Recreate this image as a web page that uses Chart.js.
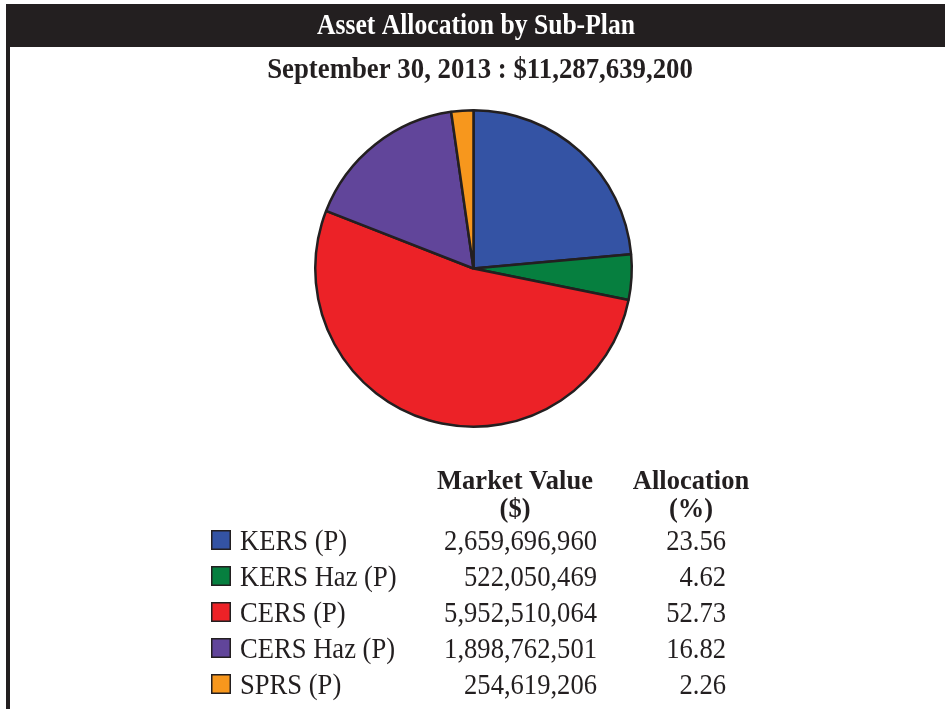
<!DOCTYPE html>
<html>
<head>
<meta charset="utf-8">
<script src="https://cdn.jsdelivr.net/npm/chart.js@4.4.1/dist/chart.umd.min.js"></script>
<style>
  html, body { margin: 0; padding: 0; background: #fff; }
  #wrap { position: relative; width: 945px; height: 709px; }
</style>
</head>
<body>
<div id="wrap"><canvas id="pieCanvas" width="945" height="709"></canvas></div>
<script>
// data
const titleText = 'Asset Allocation by Sub-Plan';
const subTitle = 'September 30, 2013 : $11,287,639,200';
const planNames = ['KERS (P)', 'KERS Haz (P)', 'CERS (P)', 'CERS Haz (P)', 'SPRS (P)'];
const marketValues = [2659696960, 522050469, 5952510064, 1898762501, 254619206];
const allocationPct = [23.56, 4.62, 52.73, 16.82, 2.26];
const sliceColors = ['#3453a4', '#067f3f', '#ec2227', '#61459a', '#f7971d'];

const ink = '#231f20';
const serif = '"Liberation Serif", "Times New Roman", serif';

// text a little taller than the font, like the printed original
function tallText(ctx, text, x, y, sy) {
    ctx.save();
    ctx.translate(x, y);
    ctx.scale(1, sy);
    ctx.fillText(text, 0, 0);
    ctx.restore();
}

// วาดหัวข้อ กรอบ และตารางบน canvas
const frame = {
    id: 'frame',
    beforeDraw(chart) {
        const ctx = chart.ctx;
        ctx.save();
        ctx.fillStyle = '#fff';
        ctx.fillRect(0, 0, chart.width, chart.height);
        ctx.fillStyle = ink;
        ctx.fillRect(6, 4, 939, 43);   // black header bar
        ctx.fillRect(6, 4, 4, 705);    // left rule
        ctx.textAlign = 'center';
        ctx.textBaseline = 'alphabetic';
        ctx.fillStyle = '#fff';
        ctx.font = 'bold 25.6px ' + serif;
        tallText(ctx, titleText, 476, 34, 1.12);
        ctx.fillStyle = ink;
        ctx.font = 'bold 26.8px ' + serif;
        tallText(ctx, subTitle, 480, 78, 1.1);
        ctx.restore();
    },
    afterDraw(chart) {
        const ctx = chart.ctx;
        ctx.save();
        ctx.fillStyle = ink;
        ctx.font = 'bold 26.5px ' + serif;
        ctx.textAlign = 'center';
        tallText(ctx, 'Market Value', 515, 489, 1.07);
        tallText(ctx, '($)', 515, 517, 1.07);
        tallText(ctx, 'Allocation', 691, 489, 1.07);
        tallText(ctx, '(%)', 691, 517, 1.07);

        ctx.font = '26.6px ' + serif;
        planNames.forEach(function(name, i) {
            let y = 550 + i * 36;
            ctx.fillStyle = sliceColors[i];
            ctx.fillRect(211, y - 20, 20, 20);
            ctx.strokeStyle = ink;
            ctx.lineWidth = 1.5;
            ctx.strokeRect(211.75, y - 19.25, 18.5, 18.5);
            ctx.fillStyle = ink;
            ctx.textAlign = 'left';
            tallText(ctx, name, 240, y, 1.07);
            ctx.textAlign = 'right';
            tallText(ctx, marketValues[i].toLocaleString('en-US'), 597, y, 1.07);
            tallText(ctx, allocationPct[i].toFixed(2), 726, y, 1.07);
        });
        ctx.restore();
    }
};

let pieCanvas = document.getElementById('pieCanvas').getContext('2d');
let pieChart = new Chart(pieCanvas, {
    type: 'pie',
    data: {
        labels: planNames,
        datasets: [{
            data: marketValues,
            backgroundColor: sliceColors,
            borderColor: ink,
            borderWidth: 2.5
        }]
    },
    options: {
        responsive: false,
        animation: false,
        layout: { padding: { top: 109, bottom: 281, left: 314, right: 312 } },
        plugins: {
            legend: { display: false },
            tooltip: { enabled: false }
        }
    },
    plugins: [frame]
});
</script>
</body>
</html>
